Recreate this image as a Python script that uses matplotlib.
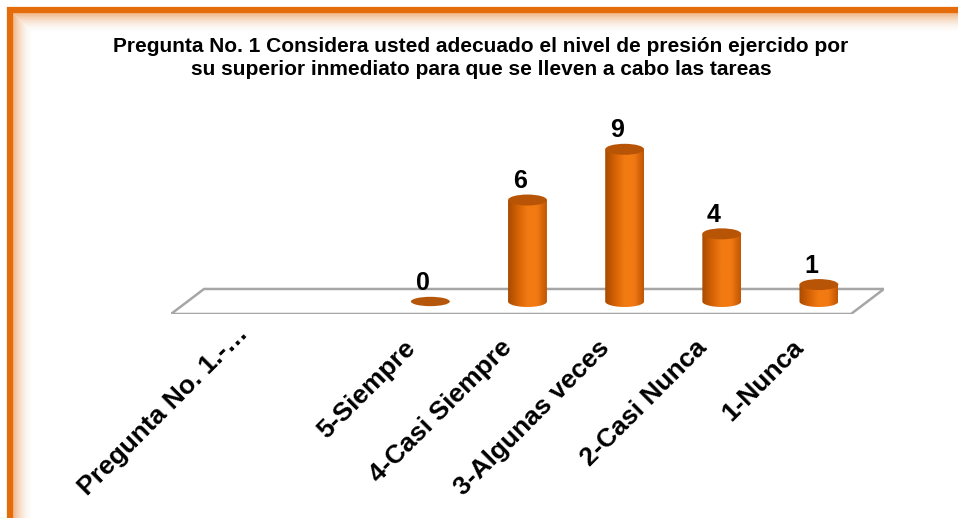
import matplotlib.pyplot as plt
import numpy as np
from matplotlib.patches import Ellipse, Polygon, Rectangle
from matplotlib.colors import LinearSegmentedColormap
from matplotlib.transforms import ScaledTranslation

plt.rcParams['font.family'] = ['Liberation Sans', 'DejaVu Sans']

categories = ["Pregunta No. 1.-…", "", "5-Siempre", "4-Casi Siempre",
              "3-Algunas veces", "2-Casi Nunca", "1-Nunca"]
values = [None, None, 0, 6, 9, 4, 1]
title = ("Pregunta No. 1 Considera usted adecuado el nivel de presión ejercido por\n"
         "su superior inmediato para que se lleven a cabo las tareas")

orange = "#E46C0A"
side_cmap = LinearSegmentedColormap.from_list(
    "cyl", ["#A84A00", "#D46205", "#F27A12", "#F37A12", "#C05604"])

fig = plt.figure(figsize=(9.58, 5.18), dpi=100)
W, H = 958, 518

# orange frame with soft inner glow
for i in range(20):
    a = 0.45 * (1 - i / 20) ** 2
    fig.patches.append(Rectangle(((13 + i) / W, -20 / H), (980 - 13 - i) / W,
                                 (H - 13 - i + 20) / H, transform=fig.transFigure,
                                 fill=False, ec=orange, lw=0.8, alpha=a))
fig.patches.append(Rectangle((10 / W, -20 / H), 980 / W, (H - 10 + 20) / H,
                             transform=fig.transFigure, fill=False, ec=orange, lw=4.5))

ax = fig.add_axes([171 / W, (H - 314) / H, 713 / W, 186 / H])
depth_x, depth_y = 0.34, 1.48
n = len(categories)

floor = Polygon([(-0.5, 0), (n - 0.5, 0), (n - 0.5 + depth_x, depth_y),
                 (-0.5 + depth_x, depth_y)], closed=True, fc="white",
                ec="#A6A6A6", lw=1.8, zorder=1)
ax.add_patch(floor)

bw = 0.40       # cylinder width (slot units)
eh = 0.65       # ellipse height (value units)
bx_off, base = depth_x / 2, depth_y / 2

for i, v in enumerate(values):
    if v is None:
        continue
    cx = i + bx_off
    top = base + v
    if v > 0:
        t = np.linspace(np.pi, 2 * np.pi, 40)
        arc = np.column_stack([cx + bw / 2 * np.cos(t), base + eh / 2 * np.sin(t)])
        pts = np.vstack([[cx - bw / 2, top], arc, [cx + bw / 2, top]])
        clip = Polygon(pts, closed=True, fc="none", ec="none", transform=ax.transData)
        ax.add_patch(clip)
        im = ax.imshow(np.linspace(0, 1, 100).reshape(1, -1), cmap=side_cmap,
                       extent=[cx - bw / 2, cx + bw / 2, base - eh / 2, top],
                       aspect="auto", zorder=2, interpolation="bilinear")
        im.set_clip_path(clip)
        ax.add_patch(Ellipse((cx, top), bw, eh, fc="#B85406", ec="none", zorder=3))
    else:
        ax.add_patch(Ellipse((cx, top), bw, eh * 0.85, fc="#B5570A", ec="none", zorder=3))
    ax.text(i + 0.09, top + 0.70, str(v), ha="center", va="baseline",
            fontsize=18, fontweight="bold", zorder=4)

ax.set_xlim(-0.5, n - 0.5 + depth_x)
ax.set_ylim(0, 11)

ax.set_xticks(range(n))
ax.set_xticklabels(categories, rotation=45, ha="right", rotation_mode="anchor",
                   fontsize=19, fontweight="bold")
ax.tick_params(axis="x", length=0, pad=15.5)
for k, lab in enumerate(ax.get_xticklabels()):
    dx = -0.11 if k else 0.16
    dy = 0.0 if k else 0.14
    lab.set_transform(lab.get_transform() + ScaledTranslation(dx, dy, fig.dpi_scale_trans))
ax.set_yticks([])
for s in ax.spines.values():
    s.set_visible(False)
ax.patch.set_visible(False)

fig.text(481 / W, 1 - 58 / H, title, ha="center", va="center", fontsize=15,
         fontweight="bold", linespacing=1.25)

fig.savefig("out.png", dpi=100, facecolor="white")
